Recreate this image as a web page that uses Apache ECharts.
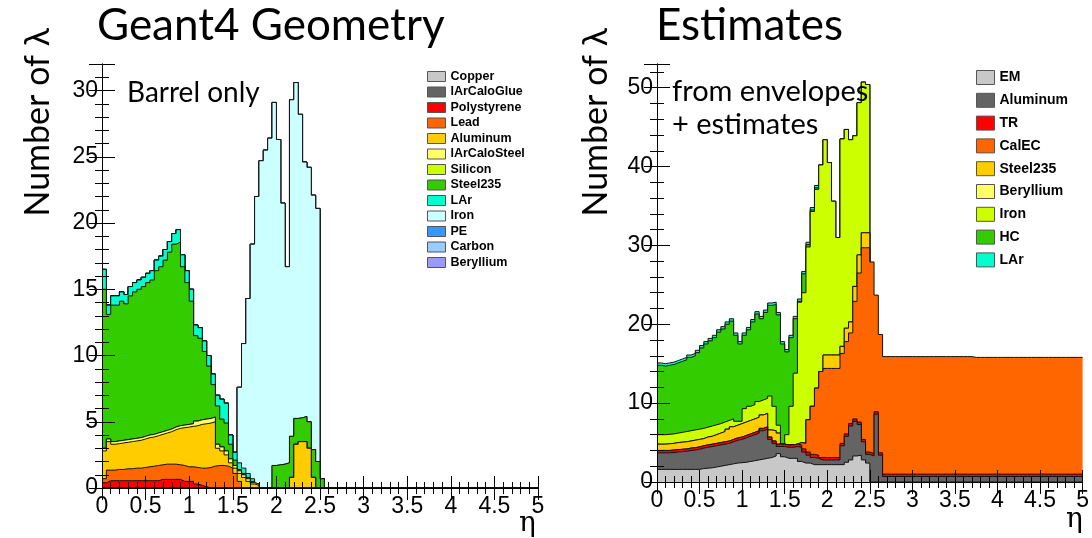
<!DOCTYPE html>
<html>
<head>
<meta charset="utf-8">
<script src="https://cdn.jsdelivr.net/npm/echarts@6/dist/echarts.min.js"></script>
<style>
  html, body { margin: 0; padding: 0; background: #fff; }
  #chart { width: 1092px; height: 538px; }
</style>
</head>
<body>
<div id="chart"></div>
<script>
// 100 bins of 0.05 in eta, values are the stacked (cumulative) height at the top of each layer
const leftNames = ['Copper', 'lArCaloGlue', 'Polystyrene', 'Lead', 'Aluminum', 'lArCaloSteel', 'Silicon',
  'Steel235', 'LAr', 'Iron', 'PE', 'Carbon', 'Beryllium'];
const leftColors = ['#c8c8c8', '#646464', '#ff0000', '#ff6600', '#ffcc00', '#ffff66', '#ccff00',
  '#33cc00', '#00ffcc', '#ccffff', '#3399ff', '#99ccff', '#9999ff'];

const leftCopper = [];
const leftGlue = [];
const leftPoly = [0.4, 0.55, 0.55, 0.55, 0.55, 0.55, 0.55, 0.55, 0.55, 0.55, 0.55, 0.55, 0.55, 0.65, 0.65, 0.65,
  0.65, 0.65, 0.5, 0.5, 0.5, 0.3, 0.2, 0.1];
const leftLead = [0.7, 1.35, 1.35, 1.4, 1.4, 1.45, 1.45, 1.5, 1.5, 1.55, 1.6, 1.65, 1.7, 1.75, 1.8, 1.8, 1.8, 1.75,
  1.7, 1.6, 1.6, 1.55, 1.5, 1.5, 1.55, 1.65, 1.7, 1.7, 1.65, 1.5, 1.1, 0.5];
const leftAlu = [2.8, 3.5, 3.3, 3.35, 3.4, 3.45, 3.5, 3.55, 3.6, 3.7, 3.8, 3.85, 3.95, 4.05, 4.15, 4.25, 4.4, 4.5,
  4.55, 4.6, 4.65, 4.7, 4.8, 4.85, 4.9, 5.0, 3.0, 2.8, 2.5, 1.9, 1.5, 1.1, 0.8, 0.5, 0.3, 0.2, 0, 0, 0, 0, 0, 0, 0,
  0.8, 3.3, 3.5, 3.5, 3.0, 0.8];
const leftCaloSteel = [3.0, 3.7, 3.5, 3.55, 3.6, 3.65, 3.7, 3.75, 3.8, 3.9, 4.0, 4.05, 4.15, 4.25, 4.35, 4.45, 4.6,
  4.7, 4.75, 4.8, 4.85, 5.05, 5.15, 5.2, 5.25, 5.35, 3.3, 3.1, 2.8, 2.2, 1.7, 1.3, 1.0, 0.7, 0.4, 0.3, 0, 0, 0, 0, 0,
  0, 0, 0.8, 3.3, 3.5, 3.5, 3.0, 0.8];
const leftSilicon = leftCaloSteel;
const leftSteel = [15.0, 13.1, 13.8, 13.8, 14.1, 13.9, 14.5, 14.8, 15.0, 15.2, 15.5, 15.7, 16.4, 16.7, 17.2, 17.8,
  18.4, 18.55, 16.7, 15.5, 14.1, 11.5, 11.3, 10.3, 9.2, 7.8, 6.2, 5.2, 4.9, 3.3, 2.1, 1.4, 1.1, 0.8, 0.5, 0.3, 0, 0, 0,
  1.7, 1.75, 1.8, 1.9, 3.9, 5.25, 5.3, 5.4, 5.0, 2.9, 2.0, 0.7];
const leftLAr = [16.5, 13.8, 14.5, 14.5, 14.8, 14.6, 15.2, 15.5, 15.7, 15.9, 16.2, 16.4, 17.2, 17.5, 18.0, 18.6,
  19.2, 19.5, 17.6, 16.4, 15.0, 12.3, 12.1, 11.1, 10.0, 8.6, 7.0, 6.7, 6.4, 4.0, 2.7, 1.9, 1.5, 1.1, 0.7, 0.3, 0, 0, 0,
  1.7, 1.75, 1.8, 1.9, 3.9, 5.25, 5.3, 5.4, 5.0, 2.9, 2.0, 0.7];
const leftIron = [16.5, 13.8, 14.5, 14.5, 14.8, 14.6, 15.2, 15.5, 15.7, 15.9, 16.2, 16.4, 17.2, 17.5, 18.0, 18.6,
  19.2, 19.5, 17.6, 16.4, 15.0, 12.3, 12.1, 11.1, 10.0, 8.6, 7.0, 6.7, 6.4, 4.0, 2.7, 7.6, 10.9, 14.3, 18.4, 22.0,
  24.7, 25.5, 26.4, 29.1, 26.3, 21.5, 16.7, 29.3, 30.6, 28.2, 24.6, 24.2, 22.1, 21.1, 0.7];
const leftPE = leftIron;
const leftCarbon = leftIron;
const leftBeryllium = leftIron;

const rightNames = ['EM', 'Aluminum', 'TR', 'CalEC', 'Steel235', 'Beryllium', 'Iron', 'HC', 'LAr'];
const rightColors = ['#c8c8c8', '#646464', '#ff0000', '#ff6600', '#ffcc00', '#ffff66', '#ccff00', '#33cc00', '#00ffcc'];

const rightEM = [1.6, 1.6, 1.6, 1.6, 1.6, 1.6, 1.6, 1.6, 1.6, 1.6, 1.7, 1.75, 1.8, 1.9, 2.0, 2.1, 2.2, 2.3, 2.4, 2.45,
  2.5, 2.6, 2.7, 2.8, 2.9, 3.0, 3.1, 3.3, 3.6, 3.2, 3.0, 3.0, 3.0, 2.6, 2.4, 2.4, 2.2, 2.2, 2.2, 2.2, 2.2, 2.2, 2.2,
  2.2, 2.5, 2.8, 3.3, 3.4, 2.8, 2.4];
const rightAlu = [3.7, 3.7, 3.7, 3.75, 3.8, 3.85, 3.9, 4.0, 4.05, 4.15, 4.3, 4.4, 4.5, 4.6, 4.7, 4.8, 4.9, 5.1, 5.3,
  5.4, 5.6, 5.8, 6.0, 6.2, 6.5, 6.7, 5.4, 4.9, 4.5, 4.5, 4.4, 4.4, 4.5, 4.4, 3.8, 3.4, 3.1, 3.0, 2.8, 2.8, 2.8, 2.8,
  2.8, 4.6, 5.8, 7.1, 7.7, 7.3, 5.1, 3.5, 3.3, 8.6, 3.4,
  0.7, 0.7, 0.7, 0.7, 0.7, 0.7, 0.7, 0.7, 0.7, 0.7, 0.7, 0.7, 0.7, 0.7, 0.7, 0.7, 0.7, 0.7, 0.7, 0.7, 0.7, 0.7, 0.7,
  0.7, 0.7, 0.7, 0.7, 0.7, 0.7, 0.7, 0.7, 0.7, 0.7, 0.7, 0.7, 0.7, 0.7, 0.7, 0.7, 0.7, 0.7, 0.7, 0.7, 0.7, 0.7, 0.7,
  0.7];
const rightTR = [4.0, 4.0, 4.0, 4.05, 4.1, 4.15, 4.2, 4.3, 4.35, 4.45, 4.6, 4.7, 4.8, 4.9, 5.0, 5.1, 5.2, 5.4, 5.6,
  5.7, 5.9, 6.1, 6.3, 6.5, 6.8, 7.0, 5.7, 5.2, 4.8, 4.8, 4.7, 4.7, 4.8, 4.7, 4.2, 3.8, 3.5, 3.4, 3.1, 3.1, 3.1, 3.1,
  3.1, 4.9, 6.1, 7.4, 8.0, 7.6, 5.4, 3.8, 3.6, 8.9, 3.7,
  1.0, 1.0, 1.0, 1.0, 1.0, 1.0, 1.0, 1.0, 1.0, 1.0, 1.0, 1.0, 1.0, 1.0, 1.0, 1.0, 1.0, 1.0, 1.0, 1.0, 1.0, 1.0, 1.0,
  1.0, 1.0, 1.0, 1.0, 1.0, 1.0, 1.0, 1.0, 1.0, 1.0, 1.0, 1.0, 1.0, 1.0, 1.0, 1.0, 1.0, 1.0, 1.0, 1.0, 1.0, 1.0, 1.0,
  1.0];
const rightCalEC = [4.0, 4.0, 4.0, 4.05, 4.1, 4.15, 4.2, 4.3, 4.35, 4.45, 4.6, 4.7, 4.8, 4.9, 5.0, 5.1, 5.2, 5.4, 5.6,
  5.7, 5.9, 6.1, 6.3, 6.5, 6.8, 7.0, 5.7, 5.2, 4.8, 4.8, 4.7, 4.7, 4.8, 5.0, 4.9, 7.9, 9.6, 11.9, 14.0, 14.4, 14.4,
  14.4, 14.4, 16.3, 17.8, 18.9, 22.9, 26.5, 29.7, 29.7, 27.9, 23.7, 18.7,
  15.9, 15.9, 15.9, 15.9, 15.9, 15.9, 15.9, 15.9, 15.9, 15.9, 15.9, 15.9, 15.9, 15.9, 15.9, 15.9, 15.9, 15.9, 15.9,
  15.9, 15.9, 15.8, 15.8, 15.8, 15.8, 15.8, 15.8, 15.8, 15.8, 15.8, 15.8, 15.8, 15.8, 15.8, 15.8, 15.8, 15.8, 15.8,
  15.8, 15.8, 15.8, 15.8, 15.8, 15.8, 15.8, 15.8, 15.8];
const rightSteel = [4.8, 4.8, 4.85, 4.9, 5.0, 5.05, 5.1, 5.2, 5.3, 5.4, 5.5, 5.7, 5.8, 6.0, 6.2, 6.4, 6.7, 7.0, 7.2,
  7.4, 7.6, 7.8, 8.0, 8.2, 8.5, 8.7, 6.6, 6.5, 6.2, 4.8, 4.7, 4.7, 4.8, 5.0, 4.9, 7.9, 9.6, 11.9, 14.0, 16.1, 16.1,
  16.1, 16.1, 17.2, 19.5, 20.3, 24.8, 28.8, 31.6, 31.6];
const rightBeryllium = rightSteel;
const rightIron = [6.0, 6.0, 6.05, 6.1, 6.2, 6.3, 6.4, 6.5, 6.6, 6.7, 6.8, 6.95, 7.1, 7.25, 7.4, 7.6, 7.8, 8.0, 7.7,
  7.7, 9.3, 9.6, 9.8, 10.2, 10.4, 10.6, 10.9, 9.6, 7.2, 4.8, 6.0, 9.6, 13.8, 22.8, 24.0, 29.8, 34.3, 37.1, 40.2, 43.4,
  40.5, 35.6, 31.0, 43.5, 44.7, 43.4, 43.9, 48.1, 50.7, 50.4];
const rightHC = [14.8, 14.7, 14.8, 14.9, 15.1, 15.3, 15.5, 15.8, 16.0, 16.4, 17.0, 17.5, 17.9, 18.3, 19.0, 19.4, 20.0,
  20.4, 18.6, 17.5, 18.6, 19.3, 20.3, 21.3, 20.7, 21.5, 22.4, 22.5, 21.2, 17.5, 16.5, 18.3, 20.7, 22.9, 26.4, 30.1,
  34.5, 37.3, 40.2, 43.4, 40.5, 35.6, 31.0, 43.5, 44.7, 43.4, 43.9, 48.1, 50.7, 50.4];
const rightLAr = [15.1, 15.0, 15.1, 15.2, 15.4, 15.6, 15.8, 16.1, 16.3, 16.7, 17.3, 17.8, 18.2, 18.6, 19.3, 19.7,
  20.3, 20.7, 18.9, 17.8, 18.9, 19.6, 20.6, 21.6, 21.0, 21.8, 22.7, 22.8, 21.5, 17.8, 16.8, 18.6, 21.0, 23.2, 26.7,
  30.4, 34.8, 37.6, 40.2, 43.4, 40.5, 35.6, 31.0, 43.5, 44.7, 43.4, 43.9, 48.1, 50.7, 50.4];

const leftLayers = [leftCopper, leftGlue, leftPoly, leftLead, leftAlu, leftCaloSteel, leftSilicon, leftSteel,
  leftLAr, leftIron, leftPE, leftCarbon, leftBeryllium];
const rightLayers = [rightEM, rightAlu, rightTR, rightCalEC, rightSteel, rightBeryllium, rightIron, rightHC, rightLAr];

const nBins = 100;
const binWidth = 0.05;

// histogram as step line: one point per lower bin edge plus the closing edge at 5
function toSteps(vals) {
  const pts = [];
  for (let i = 0; i < nBins; i++) {
    pts.push([Math.round(i * binWidth * 100) / 100, vals[i] || 0]);
  }
  pts.push([5, vals[nBins - 1] || 0]);
  return pts;
}

// like THStack: highest sum drawn first, lower sums painted over it (z keeps lines in that order too)
function buildSeries(names, colors, layers, g) {
  const out = [];
  for (let i = names.length - 1; i >= 0; i--) {
    out.push({
      name: names[i],
      type: 'line',
      xAxisIndex: g * 2,
      yAxisIndex: g * 2,
      z: 2 + (names.length - 1 - i),
      step: 'end',
      symbol: 'none',
      silent: true,
      color: colors[i],
      itemStyle: { color: colors[i] },
      lineStyle: { color: '#111', width: 1 },
      areaStyle: { color: colors[i], opacity: 1 },
      data: toSteps(layers[i])
    });
  }
  return out;
}

function legendData(names, colors) {
  return names.map((n, i) => ({ name: n, itemStyle: { color: colors[i] } }));
}

const labelFont = { color: '#000', fontSize: 23, fontFamily: 'Liberation Sans' };

function xAxes(g) {
  const base = {
    type: 'value', gridIndex: g, min: 0, max: 5, interval: 0.5, z: 50,
    axisLine: { lineStyle: { color: '#000', width: 1 } },
    splitLine: { show: false },
    minorTick: { show: true, splitNumber: 5, length: 6, lineStyle: { color: '#000' } },
    axisTick: { inside: true, length: 12, lineStyle: { color: '#000' } }
  };
  return [
    Object.assign({}, base, { position: 'bottom', axisLabel: Object.assign({ margin: 7 }, labelFont) }),
    Object.assign({}, base, { position: 'top', axisLabel: { show: false } })
  ];
}

function yAxes(g, max, step) {
  const base = {
    type: 'value', gridIndex: g, min: 0, max: max, interval: step, z: 50,
    axisLine: { show: true, lineStyle: { color: '#000', width: 1 } },
    splitLine: { show: false },
    minorTick: { show: true, splitNumber: 5, length: 7, lineStyle: { color: '#000' } },
    axisTick: { show: true, inside: true, length: 13, lineStyle: { color: '#000' } }
  };
  return [
    Object.assign({}, base, { position: 'left',
      axisLabel: Object.assign({ margin: 4, showMaxLabel: false }, labelFont) }),
    Object.assign({}, base, { position: 'right', axisLabel: { show: false } })
  ];
}

const bigFont = 'Lato, "Open Sans", "DejaVu Sans", sans-serif';

const option = {
  animation: false,
  backgroundColor: '#fff',
  grid: [
    { left: 102, top: 64, width: 436, height: 424 },
    { left: 657, top: 64, width: 428, height: 418 }
  ],
  xAxis: xAxes(0).concat(xAxes(1)),
  yAxis: yAxes(0, 32, 5).concat(yAxes(1, 53, 10)),
  legend: [
    {
      orient: 'vertical', left: 422, top: 65, icon: 'rect', z: 60,
      itemWidth: 18, itemHeight: 10, itemGap: 2.5,
      selectedMode: false,
      itemStyle: { borderColor: '#555', borderWidth: 1 },
      textStyle: { color: '#000', fontSize: 12.5, fontWeight: 'bold', lineHeight: 10,
        fontFamily: 'Liberation Sans' },
      data: legendData(leftNames, leftColors)
    },
    {
      orient: 'vertical', left: 971, top: 65, icon: 'rect', z: 60,
      itemWidth: 18, itemHeight: 14, itemGap: 7.8,
      selectedMode: false,
      itemStyle: { borderColor: '#555', borderWidth: 1 },
      textStyle: { color: '#000', fontSize: 14, fontWeight: 'bold', lineHeight: 14,
        fontFamily: 'Liberation Sans' },
      data: legendData(rightNames, rightColors)
    }
  ],
  graphic: [
    { type: 'text', z: 100, left: 97, top: 4, style: { text: 'Geant4 Geometry', font: '44px ' + bigFont, fill: '#000' } },
    { type: 'text', z: 100, left: 656, top: 4, style: { text: 'Estimates', font: '44px ' + bigFont, fill: '#000' } },
    { type: 'text', z: 100, left: 127, top: 79, style: { text: 'Barrel only', font: '28px ' + bigFont, fill: '#000' } },
    { type: 'text', z: 100, left: 672, top: 77, style: { text: 'from envelopes', font: '29px ' + bigFont, fill: '#000' } },
    { type: 'text', z: 100, left: 672, top: 110, style: { text: '+ estimates', font: '29px ' + bigFont, fill: '#000' } },
    { type: 'text', z: 100, left: 21, top: 28, rotation: Math.PI / 2,
      style: { text: 'Number of λ', font: '34px ' + bigFont, fill: '#000' } },
    { type: 'text', z: 100, left: 579, top: 28, rotation: Math.PI / 2,
      style: { text: 'Number of λ', font: '34px ' + bigFont, fill: '#000' } },
    { type: 'text', z: 100, left: 519, top: 510, style: { text: 'η', font: '28px "DejaVu Serif", serif', fill: '#000' } },
    { type: 'text', z: 100, left: 1066, top: 506, style: { text: 'η', font: '28px "DejaVu Serif", serif', fill: '#000' } }
  ],
  series: buildSeries(leftNames, leftColors, leftLayers, 0)
    .concat(buildSeries(rightNames, rightColors, rightLayers, 1))
};

const myChart = echarts.init(document.getElementById('chart'));
myChart.setOption(option);
</script>
</body>
</html>
